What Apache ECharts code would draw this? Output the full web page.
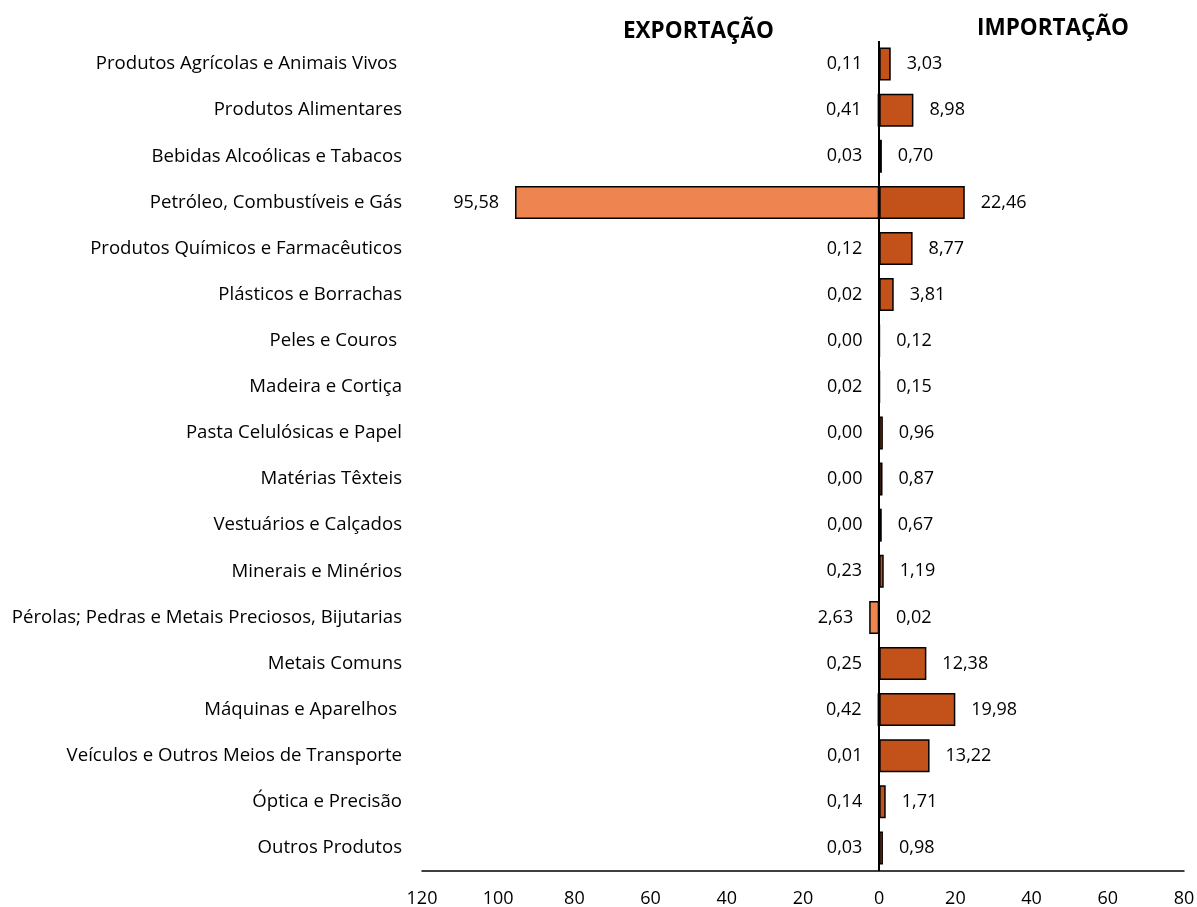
<!DOCTYPE html>
<html>
<head>
<meta charset="utf-8">
<script src="https://cdn.jsdelivr.net/npm/echarts@6/dist/echarts.min.js"></script>
<style>
  html, body { margin: 0; padding: 0; background: #fff; }
  #chart { width: 1197px; height: 907px; }
</style>
</head>
<body>
<div id="chart"></div>
<script>
/* dados */
var categorias = ['Produtos Agrícolas e Animais Vivos ', 'Produtos Alimentares', 'Bebidas Alcoólicas e Tabacos',
  'Petróleo, Combustíveis e Gás', 'Produtos Químicos e Farmacêuticos', 'Plásticos e Borrachas', 'Peles e Couros ',
  'Madeira e Cortiça', 'Pasta Celulósicas e Papel', 'Matérias Têxteis', 'Vestuários e Calçados',
  'Minerais e Minérios', 'Pérolas; Pedras e Metais Preciosos, Bijutarias', 'Metais Comuns',
  'Máquinas e Aparelhos ', 'Veículos e Outros Meios de Transporte', 'Óptica e Precisão', 'Outros Produtos'];
var exportacao = [0.11, 0.41, 0.03, 95.58, 0.12, 0.02, 0.00, 0.02, 0.00, 0.00, 0.00, 0.23, 2.63, 0.25, 0.42, 0.01, 0.14, 0.03];
var importacao = [3.03, 8.98, 0.70, 22.46, 8.77, 3.81, 0.12, 0.15, 0.96, 0.87, 0.67, 1.19, 0.02, 12.38, 19.98, 13.22, 1.71, 0.98];
var eixoMin = -120, eixoMax = 80, eixoPasso = 20;

var fonte = '"Open Sans"';
function fmt(v) { return Math.abs(v).toFixed(2).replace('.', ','); }

var chart = echarts.init(document.getElementById('chart'));
var option = {
  animation: false,
  textStyle: { fontFamily: fonte },
  graphic: [
    { type: 'text', left: 623, top: 20, style: { text: 'EXPORTAÇÃO', font: 'bold 22.5px ' + fonte, fill: '#000' } },
    { type: 'text', left: 977, top: 17, style: { text: 'IMPORTAÇÃO', font: 'bold 22.5px ' + fonte, fill: '#000' } }
  ],
  grid: { left: 422, right: 13, top: 41, bottom: 36, outerBoundsMode: 'none', containLabel: false },
  xAxis: {
    type: 'value',
    min: eixoMin, max: eixoMax, interval: eixoPasso,
    axisLine: { show: true, lineStyle: { color: '#000', width: 1.5 } },
    axisTick: { show: false },
    splitLine: { show: false },
    axisLabel: { color: '#000', fontSize: 18, margin: 19, formatter: function (v) { return Math.abs(v); } }
  },
  yAxis: {
    type: 'category',
    inverse: true,
    data: categorias,
    axisLine: { show: false },
    axisTick: { show: false },
    axisLabel: { color: '#000', fontSize: 18.6, margin: 20 }
  },
  series: [
    {
      name: 'Exportação',
      type: 'bar',
      barWidth: 33,
      barGap: '-100%',
      data: exportacao.map(function (v) { return -v; }),
      itemStyle: { color: '#EE8550', borderColor: '#000', borderWidth: 1.5 },
      label: { show: true, position: 'left', distance: 16, color: '#000', fontSize: 18,
        formatter: function (p) { return fmt(p.value); } },
      markLine: {
        silent: true,
        symbol: 'none',
        label: { show: false },
        lineStyle: { color: '#000', width: 2, type: 'solid' },
        data: [{ xAxis: 0 }]
      }
    },
    {
      name: 'Importação',
      type: 'bar',
      barWidth: 33,
      data: importacao,
      itemStyle: { color: '#C2511A', borderColor: '#000', borderWidth: 1.5 },
      label: { show: true, position: 'right', distance: 16, color: '#000', fontSize: 18,
        formatter: function (p) { return fmt(p.value); } }
    }
  ]
};
chart.setOption(option);
</script>
</body>
</html>
